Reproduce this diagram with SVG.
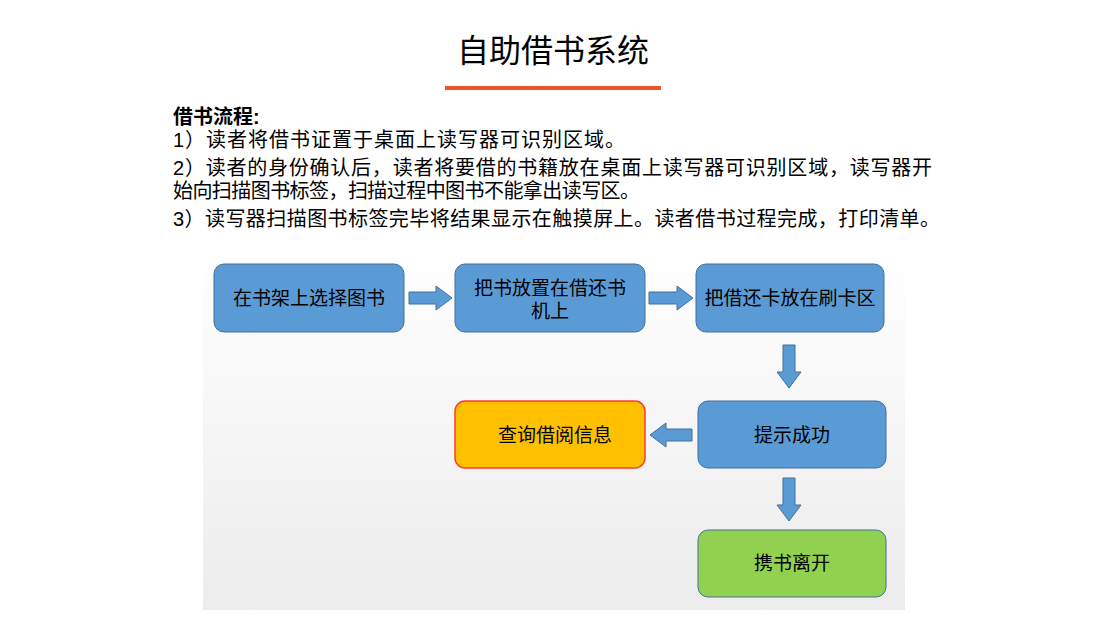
<svg xmlns="http://www.w3.org/2000/svg" width="1100" height="617" viewBox="0 0 1100 617">
<style>
text{font-family:"Liberation Sans","Noto Sans CJK SC",sans-serif;fill:#000}
.t{font-size:20px}
.n{font-size:19px;text-anchor:middle}
.b{fill:#5B9BD5;stroke:#41719C;stroke-width:1}
.a{fill:#5B9BD5;stroke:#41719C;stroke-width:1}
</style>
<defs><linearGradient id="bg" x1="0" y1="0" x2="0" y2="1"><stop offset="0" stop-color="#ffffff"/><stop offset="1" stop-color="#ececec"/></linearGradient></defs>
<rect width="1100" height="617" fill="#fff"/>
<text x="553" y="62" font-size="32" text-anchor="middle">自助借书系统</text>
<rect x="445" y="86" width="216" height="4" fill="#E8562A"/>
<text class="t" x="173" y="124" font-weight="bold">借书流程:</text>
<text class="t" x="173" y="147" textLength="452">1）读者将借书证置于桌面上读写器可识别区域。</text>
<text class="t" x="173" y="175" textLength="759">2）读者的身份确认后，读者将要借的书籍放在桌面上读写器可识别区域，读写器开</text>
<text class="t" x="173" y="198" textLength="467">始向扫描图书标签，扫描过程中图书不能拿出读写区。</text>
<text class="t" x="173" y="226" textLength="767">3）读写器扫描图书标签完毕将结果显示在触摸屏上。读者借书过程完成，打印清单。</text>
<rect x="203" y="250" width="702" height="360" fill="url(#bg)"/>
<g id="connectors">
<polygon class="a" points="409,292 436,292 436,286 452,298 436,310 436,304 409,304"/>
<polygon class="a" points="649,292 677,292 677,286 693,298 677,310 677,304 649,304"/>
<polygon class="a" points="783,345 795,345 795,372 801,372 789,388 777,372 783,372"/>
<polygon class="a" points="692,429 666,429 666,423 650,435 666,447 666,441 692,441"/>
<polygon class="a" points="783,478 795,478 795,505 801,505 789,521 777,505 783,505"/>
</g>
<g id="n1"><rect class="b" x="214" y="264" width="190" height="68" rx="10"/><text class="n" x="309" y="305">在书架上选择图书</text></g>
<g id="n2"><rect class="b" x="455" y="264" width="190" height="68" rx="10"/><text class="n" x="550" y="295">把书放置在借还书</text><text class="n" x="550" y="318">机上</text></g>
<g id="n3"><rect class="b" x="696" y="264" width="188" height="68" rx="10"/><text class="n" x="790" y="305">把借还卡放在刷卡区</text></g>
<g id="n4"><rect class="b" x="698" y="401" width="188" height="67" rx="10"/><text class="n" x="792" y="442">提示成功</text></g>
<g id="n5"><rect x="455" y="401" width="190" height="67" rx="10" fill="#FFC000" stroke="#FF3B30" stroke-width="1.5"/><text class="n" x="555" y="442">查询借阅信息</text></g>
<g id="n6"><rect x="698" y="530" width="188" height="67" rx="10" fill="#92D050" stroke="#41719C" stroke-width="1"/><text class="n" x="792" y="570">携书离开</text></g>
</svg>
